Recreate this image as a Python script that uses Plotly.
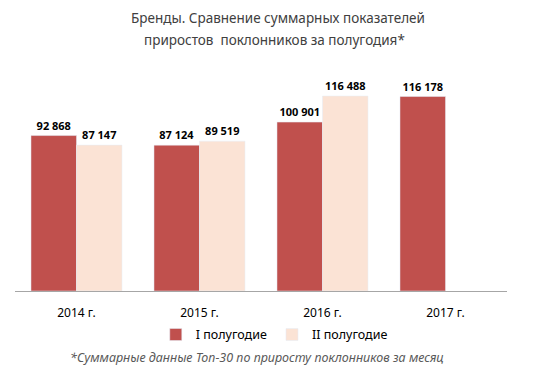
import plotly.graph_objects as go

categories = ["2014 г.", "2015 г.", "2016 г.", "2017 г."]
h1_values = [92868, 87124, 100901, 116178]
h2_values = [87147, 89519, 116488, None]
series_names = ["I полугодие", "II полугодие"]
title_lines = ["Бренды. Сравнение суммарных показателей",
               "приростов  поклонников за полугодия*"]
footnote = "*Суммарные данные Топ-30 по приросту поклонников за месяц"

def fmt(v):
    return "" if v is None else f"{v:,}".replace(",", " ")

FONT = "Noto Sans"
fig = go.Figure()
fig.add_trace(go.Bar(
    x=categories, y=h1_values, name=series_names[0],
    marker_color="#C0504D",
    text=[fmt(v) for v in h1_values], textposition="outside",
    textfont=dict(family=FONT, size=11, color="#000000", weight="bold"),
    cliponaxis=False,
))
fig.add_trace(go.Bar(
    x=categories, y=h2_values, name=series_names[1],
    marker_color="#FBE3D5",
    text=[fmt(v) for v in h2_values], textposition="outside",
    textfont=dict(family=FONT, size=11, color="#000000", weight="bold"),
    cliponaxis=False,
))

fig.update_layout(
    width=547, height=377,
    margin=dict(l=15, r=40, t=60, b=86, autoexpand=False),
    paper_bgcolor="white", plot_bgcolor="white",
    barmode="group", bargap=0.26, bargroupgap=0,
    font=dict(family=FONT, size=12, color="#000000"),
    showlegend=True,
    legend=dict(orientation="h", x=0.527, xanchor="center", y=-0.19, yanchor="middle",
                font=dict(family=FONT, size=12.5, color="#000000"),
                traceorder="normal", itemwidth=30),
    xaxis=dict(showline=True, linecolor="#A6A6A6", linewidth=1, ticks="",
               tickfont=dict(family=FONT, size=12, color="#000000"),
               ticklabelstandoff=11, fixedrange=True),
    yaxis=dict(range=[0, 138000], visible=False, showgrid=False, zeroline=False),
    annotations=[
        dict(text=title_lines[0], xref="paper", yref="paper", x=0.535, y=1.0,
             yshift=42, yanchor="middle", showarrow=False,
             font=dict(family=FONT, size=13.5, color="#404040")),
        dict(text=title_lines[1], xref="paper", yref="paper", x=0.527, y=1.0,
             yshift=20, yanchor="middle", showarrow=False,
             font=dict(family=FONT, size=13.5, color="#404040")),
        dict(text=f"<i>{footnote}</i>", xref="paper", yref="paper", x=0.491, y=0,
             yshift=-66, yanchor="middle", showarrow=False,
             font=dict(family=FONT, size=12.5, color="#595959")),
    ],
)

fig.write_html("out.html", post_script="document.body.style.margin='0';",
               config={"displayModeBar": False})
